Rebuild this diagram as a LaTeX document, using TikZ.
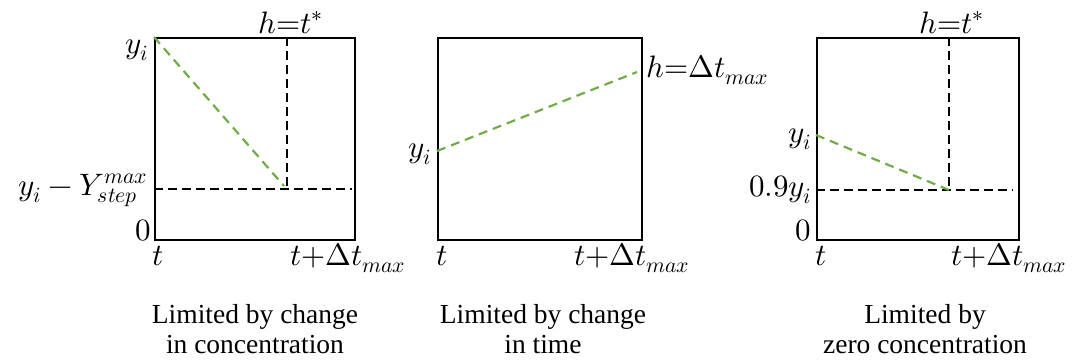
\documentclass[tikz,border=0pt]{standalone}
\usepackage{fontspec}
\usepackage{unicode-math}
\setmathfont{Latin Modern Math}
\newfontfamily\capfont{Liberation Serif}
\definecolor{plotgreen}{HTML}{70AD47}
\begin{document}
\begin{tikzpicture}[x=1pt,y=-1pt,
  frame/.style={draw=black,line width=2.3pt},
  guide/.style={draw=black,line width=2pt,dash pattern=on 9pt off 5pt},
  curve/.style={draw=plotgreen,line width=2.2pt,dash pattern=on 9pt off 6pt},
  lab/.style={inner sep=0pt,font=\fontsize{31}{36}\selectfont},
  capnode/.style={inner sep=0pt,align=center,anchor=north,font=\capfont\fontsize{27.5}{30}\selectfont}]
\useasboundingbox (0,0) rectangle (1073,360);

% ---------- panel 1 ----------
\node[frame,minimum width=200pt,minimum height=202pt,inner sep=0pt,anchor=north west] (box1) at (154,37) {};
\coordinate (p1s) at (154,37);
\coordinate (p1e) at (284,186);
\coordinate (p1vt) at (287,37);
\coordinate (p1vb) at (287,189);
\coordinate (p1hl) at (154,189);
\coordinate (p1hr) at (352,189);
\draw[guide] (p1vt) -- (p1vb);
\draw[guide] (p1hl) -- (p1hr);
\draw[curve] (p1s) -- (p1e);
\node[lab,anchor=base east] (l1y) at (149,53) {$y_i$};
\node[lab,anchor=base east] (l1ys) at (148,195) {$y_i-Y_{step}^{max}$};
\node[lab,anchor=base east] (l1z) at (151,240) {$0$};
\node[lab,anchor=base west] (l1t) at (152,265) {$t$};
\node[lab,anchor=base] (l1tm) at (348,265) {$t{+}\Delta t_{max}$};
\node[lab,anchor=base] (l1h) at (291,33) {$h{=}t^{*}$};
\node[capnode] (c1) at (255,304) {Limited by change\\in concentration};

% ---------- panel 2 ----------
\node[frame,minimum width=204pt,minimum height=202pt,inner sep=0pt,anchor=north west] (box2) at (437,37) {};
\coordinate (p2s) at (437,151);
\coordinate (p2e) at (637,72);
\draw[curve] (p2s) -- (p2e);
\node[lab,anchor=base east] (l2y) at (432,157) {$y_i$};
\node[lab,anchor=base west] (l2h) at (646,77) {$h{=}\Delta t_{max}$};
\node[lab,anchor=base west] (l2t) at (436,265) {$t$};
\node[lab,anchor=base] (l2tm) at (632,265) {$t{+}\Delta t_{max}$};
\node[capnode] (c2) at (543,304) {Limited by change\\in time};

% ---------- panel 3 ----------
\node[frame,minimum width=202pt,minimum height=202pt,inner sep=0pt,anchor=north west] (box3) at (816,37) {};
\coordinate (p3s) at (816,135);
\coordinate (p3e) at (949,190);
\coordinate (p3vt) at (949,37);
\coordinate (p3vb) at (949,190);
\coordinate (p3hl) at (816,190);
\coordinate (p3hr) at (1013,190);
\draw[guide] (p3vt) -- (p3vb);
\draw[guide] (p3hl) -- (p3hr);
\draw[curve] (p3s) -- (p3e);
\node[lab,anchor=base east] (l3y) at (812,142) {$y_i$};
\node[lab,anchor=base east] (l3y9) at (812,196) {$0.9y_i$};
\node[lab,anchor=base east] (l3z) at (811,240) {$0$};
\node[lab,anchor=base west] (l3t) at (815,265) {$t$};
\node[lab,anchor=base] (l3tm) at (1009,265) {$t{+}\Delta t_{max}$};
\node[lab,anchor=base] (l3h) at (952,33) {$h{=}t^{*}$};
\node[capnode] (c3) at (925,304) {Limited by\\zero concentration};
\end{tikzpicture}
\end{document}
